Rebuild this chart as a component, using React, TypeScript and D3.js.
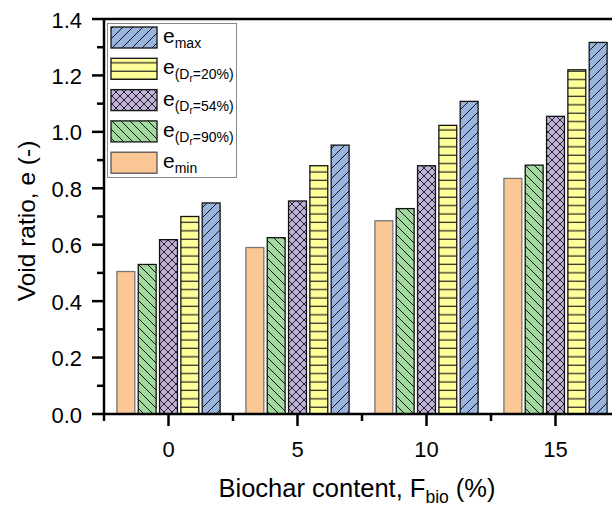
import * as d3 from "d3";

const groups = [0, 5, 10, 15];
const seriesKeys = ["emin", "e90", "e54", "e20", "emax"];
const emin = [0.505, 0.59, 0.685, 0.835];
const e90 = [0.53, 0.625, 0.728, 0.882];
const e54 = [0.618, 0.755, 0.88, 1.055];
const e20 = [0.7, 0.88, 1.023, 1.22];
const emax = [0.748, 0.953, 1.108, 1.317];
const yTicks = [0, 0.2, 0.4, 0.6, 0.8, 1.0, 1.2, 1.4];
const xTicks = [0, 5, 10, 15];

const seriesValues: Record<string, number[]> = { emin, e90, e54, e20, emax };
const fills: Record<string, string> = {
  emin: "#FAC795",
  e90: "#A2D99E",
  e54: "#C1B1D8",
  e20: "#FFFF99",
  emax: "#99B5DF",
};

export default function App() {
  const width = 612,
    height = 508;
  const left = 104,
    top = 19,
    bottom = 414;

  const xScale = d3.scaleLinear().domain([-2.5, 17.5]).range([left, left + 20 * 25.8]);
  const yScale = d3.scaleLinear().domain([0, 1.4]).range([bottom, top]);
  const band = d3
    .scaleBand<string>()
    .domain(seriesKeys)
    .range([-53.3, 53.3])
    .paddingInner(0.16)
    .paddingOuter(0.08);

  const minorY = d3.range(0.1, 1.4, 0.2);
  const minorX = [-2.5, 2.5, 7.5, 12.5];

  const legendOrder = ["emax", "e20", "e54", "e90", "emin"];

  return (
    <svg width={width} height={height} style={{ position: "absolute", left: 0, top: 0 }} fontFamily="'Liberation Sans', Arial, sans-serif">
      <defs>
        <pattern id="p-emax" patternUnits="userSpaceOnUse" width={10} height={10}>
          <rect width={10} height={10} fill={fills.emax} />
          <path d="M-1,11 L11,-1 M-1,1 L1,-1 M9,11 L11,9" stroke="#111" strokeWidth={1} />
        </pattern>
        <pattern id="p-e20" patternUnits="userSpaceOnUse" width={8} height={8.4}>
          <rect width={8} height={8.4} fill={fills.e20} />
          <line x1={0} x2={8} y1={4} y2={4} stroke="#222" strokeWidth={1.2} />
        </pattern>
        <pattern id="p-e54" patternUnits="userSpaceOnUse" width={8} height={8}>
          <rect width={8} height={8} fill={fills.e54} />
          <path d="M0,0 L8,8 M8,0 L0,8" stroke="#111" strokeWidth={0.9} />
        </pattern>
        <pattern id="p-e90" patternUnits="userSpaceOnUse" width={9} height={9}>
          <rect width={9} height={9} fill={fills.e90} />
          <path d="M-1,-1 L10,10 M8,-1 L10,1 M-1,8 L1,10" stroke="#111" strokeWidth={1} />
        </pattern>
        <pattern id="p-emin" patternUnits="userSpaceOnUse" width={8} height={8}>
          <rect width={8} height={8} fill={fills.emin} />
        </pattern>
      </defs>

      {/* bars */}
      {groups.map((g, gi) => (
        <g key={g}>
          {seriesKeys.map((k) => {
            const v = seriesValues[k][gi];
            const x = xScale(g) + (band(k) as number);
            return (
              <rect
                key={k}
                x={x}
                y={yScale(v)}
                width={band.bandwidth()}
                height={bottom - yScale(v)}
                fill={`url(#p-${k})`}
                stroke={k === "emin" ? "#777" : "#111"}
                strokeWidth={1.3}
              />
            );
          })}
        </g>
      ))}

      {/* frame */}
      <line x1={left} x2={width} y1={top} y2={top} stroke="black" strokeWidth={2.5} />
      <line x1={left} x2={width} y1={bottom} y2={bottom} stroke="black" strokeWidth={2.5} />
      <line x1={left} x2={left} y1={top - 1} y2={bottom + 1} stroke="black" strokeWidth={2.5} />

      {/* y axis */}
      {yTicks.map((t) => (
        <g key={t}>
          <line x1={left - 12} x2={left} y1={yScale(t)} y2={yScale(t)} stroke="black" strokeWidth={2.5} />
          <text x={left - 22} y={yScale(t) + 1} textAnchor="end" dominantBaseline="central" fontSize={22}>
            {t.toFixed(1)}
          </text>
        </g>
      ))}
      {minorY.map((t) => (
        <line key={t} x1={left - 7} x2={left} y1={yScale(t)} y2={yScale(t)} stroke="black" strokeWidth={2.5} />
      ))}

      {/* x axis */}
      {xTicks.map((t) => (
        <g key={t}>
          <line x1={xScale(t)} x2={xScale(t)} y1={bottom} y2={bottom + 12} stroke="black" strokeWidth={2.5} />
          <text x={xScale(t)} y={bottom + 43} textAnchor="middle" fontSize={22}>
            {t}
          </text>
        </g>
      ))}
      {minorX.map((t) => (
        <line key={t} x1={xScale(t)} x2={xScale(t)} y1={bottom} y2={bottom + 7} stroke="black" strokeWidth={2.5} />
      ))}

      {/* axis titles */}
      <text x={357} y={497} textAnchor="middle" fontSize={25.5}>
        Biochar content, F<tspan fontSize={17.5} dy={6}>bio</tspan>
        <tspan dy={-6}> (%)</tspan>
      </text>
      <text transform={`translate(35 221) rotate(-90)`} textAnchor="middle" fontSize={24.5}>
        Void ratio, e (-)
      </text>

      {/* legend */}
      <rect x={107.5} y={23.5} width={129} height={154} fill="white" stroke="#888" strokeWidth={1} />
      {legendOrder.map((k, i) => {
        const y = 27 + i * 31.3;
        const dr = k === "e20" ? "20%" : k === "e54" ? "54%" : k === "e90" ? "90%" : "";
        return (
          <g key={k}>
            <rect x={111} y={y} width={46} height={21} fill={`url(#p-${k})`} stroke={k === "emin" ? "#555" : "#111"} strokeWidth={1.3} />
            <text x={163} y={y + 16} fontSize={21}>
              e
              {dr ? (
                <>
                  <tspan fontSize={14} dy={5}>(D</tspan>
                  <tspan fontSize={10} dy={3}>r</tspan>
                  <tspan fontSize={14} dy={-3}>{`=${dr})`}</tspan>
                </>
              ) : (
                <tspan fontSize={14} dy={5}>{k === "emax" ? "max" : "min"}</tspan>
              )}
            </text>
          </g>
        );
      })}
    </svg>
  );
}
